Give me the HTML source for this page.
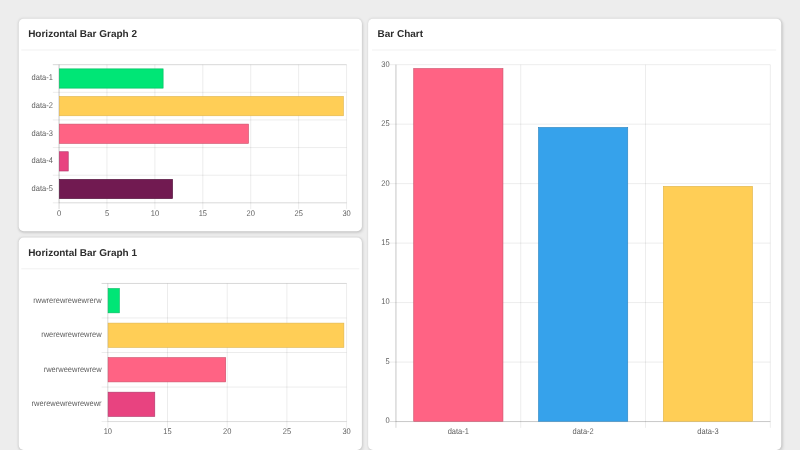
<!DOCTYPE html>
<html><head><meta charset="utf-8"><title>Dashboard</title>
<style>
html,body{margin:0;padding:0;background:#ededed;overflow:hidden;}
body{width:800px;height:450px;position:relative;font-family:"Liberation Sans",sans-serif;}
#stage{position:absolute;left:0;top:0;width:1280px;height:720px;transform:scale(0.625);transform-origin:0 0;}
.card{position:absolute;background:#fff;border-radius:8px;box-shadow:1.5px 2px 5px rgba(0,0,0,.12),0 0 4px rgba(0,0,0,.09);}
.card h3{position:absolute;left:15px;top:15px;margin:0;font-size:16px;line-height:19px;font-weight:bold;color:#2d2d2d;white-space:nowrap;text-rendering:geometricPrecision;}
.card .hr{position:absolute;left:4px;right:4px;top:49px;height:2px;background:#f4f4f4;}
svg{position:absolute;left:0;top:0;}
svg text{text-rendering:geometricPrecision;font-family:"Liberation Sans",sans-serif;font-size:12px;fill:#5e5e5e;}
</style></head><body>
<div id="stage">
<div class="card" style="left:30px;top:29.5px;width:549px;height:340.5px"><h3 style="top:15.5px">Horizontal Bar Graph 2</h3><div class="hr" style="top:49.5px"></div></div>
<div class="card" style="left:30px;top:380px;width:549px;height:340px"><h3>Horizontal Bar Graph 1</h3><div class="hr"></div></div>
<div class="card" style="left:589px;top:29.5px;width:661px;height:690.5px"><h3 style="top:15.5px">Bar Chart</h3><div class="hr" style="left:6px;right:8px;top:49.5px"></div></div>
<svg width="1280" height="720" viewBox="0 0 1280 720">
<g>
<line x1="84.50" y1="103.50" x2="554.50" y2="103.50" stroke="rgba(0,0,0,0.25)"/>
<line x1="84.50" y1="147.70" x2="554.50" y2="147.70" stroke="rgba(0,0,0,0.12)"/>
<line x1="84.50" y1="191.90" x2="554.50" y2="191.90" stroke="rgba(0,0,0,0.12)"/>
<line x1="84.50" y1="236.10" x2="554.50" y2="236.10" stroke="rgba(0,0,0,0.12)"/>
<line x1="84.50" y1="280.30" x2="554.50" y2="280.30" stroke="rgba(0,0,0,0.12)"/>
<line x1="84.50" y1="324.50" x2="554.50" y2="324.50" stroke="rgba(0,0,0,0.12)"/>
<line x1="94.50" y1="103.50" x2="94.50" y2="324.50" stroke="rgba(0,0,0,0.12)"/>
<line x1="94.50" y1="103.50" x2="94.50" y2="334.50" stroke="rgba(0,0,0,0.25)"/>
<line x1="171.17" y1="103.50" x2="171.17" y2="334.50" stroke="rgba(0,0,0,0.12)"/>
<line x1="247.83" y1="103.50" x2="247.83" y2="334.50" stroke="rgba(0,0,0,0.12)"/>
<line x1="324.50" y1="103.50" x2="324.50" y2="334.50" stroke="rgba(0,0,0,0.12)"/>
<line x1="401.17" y1="103.50" x2="401.17" y2="334.50" stroke="rgba(0,0,0,0.12)"/>
<line x1="477.83" y1="103.50" x2="477.83" y2="334.50" stroke="rgba(0,0,0,0.12)"/>
<line x1="554.50" y1="103.50" x2="554.50" y2="334.50" stroke="rgba(0,0,0,0.12)"/>
<line x1="94.50" y1="324.50" x2="554.50" y2="324.50" stroke="rgba(0,0,0,0.12)"/>
<rect x="95.00" y="110.19" width="165.98" height="30.82" fill="#00e676" stroke="#00bc60"/>
<rect x="95.00" y="154.39" width="454.40" height="30.82" fill="#ffce56" stroke="#e0b54b"/>
<rect x="95.00" y="198.59" width="302.60" height="30.82" fill="#ff6384" stroke="#cc4f69"/>
<rect x="95.00" y="242.79" width="14.18" height="30.82" fill="#e84380" stroke="#b0366a"/>
<rect x="95.00" y="286.99" width="181.16" height="30.82" fill="#711a51" stroke="#51123a"/>
</g>
<g>
<line x1="162.50" y1="453.50" x2="554.50" y2="453.50" stroke="rgba(0,0,0,0.25)"/>
<line x1="162.50" y1="508.75" x2="554.50" y2="508.75" stroke="rgba(0,0,0,0.12)"/>
<line x1="162.50" y1="564.00" x2="554.50" y2="564.00" stroke="rgba(0,0,0,0.12)"/>
<line x1="162.50" y1="619.25" x2="554.50" y2="619.25" stroke="rgba(0,0,0,0.12)"/>
<line x1="162.50" y1="674.50" x2="554.50" y2="674.50" stroke="rgba(0,0,0,0.12)"/>
<line x1="172.50" y1="453.50" x2="172.50" y2="674.50" stroke="rgba(0,0,0,0.12)"/>
<line x1="172.50" y1="453.50" x2="172.50" y2="684.50" stroke="rgba(0,0,0,0.12)"/>
<line x1="268.00" y1="453.50" x2="268.00" y2="684.50" stroke="rgba(0,0,0,0.12)"/>
<line x1="363.50" y1="453.50" x2="363.50" y2="684.50" stroke="rgba(0,0,0,0.12)"/>
<line x1="459.00" y1="453.50" x2="459.00" y2="684.50" stroke="rgba(0,0,0,0.12)"/>
<line x1="554.50" y1="453.50" x2="554.50" y2="684.50" stroke="rgba(0,0,0,0.12)"/>
<line x1="172.50" y1="674.50" x2="554.50" y2="674.50" stroke="rgba(0,0,0,0.12)"/>
<rect x="173.00" y="461.74" width="17.91" height="38.78" fill="#00e676" stroke="#00bc60"/>
<rect x="173.00" y="516.99" width="377.18" height="38.78" fill="#ffce56" stroke="#e0b54b"/>
<rect x="173.00" y="572.24" width="188.09" height="38.78" fill="#ff6384" stroke="#cc4f69"/>
<rect x="173.00" y="627.49" width="74.64" height="38.78" fill="#e84380" stroke="#b0366a"/>
</g>
<g>
<line x1="633.50" y1="103.50" x2="633.50" y2="684.50" stroke="rgba(0,0,0,0.25)"/>
<line x1="833.17" y1="103.50" x2="833.17" y2="684.50" stroke="rgba(0,0,0,0.12)"/>
<line x1="1032.83" y1="103.50" x2="1032.83" y2="684.50" stroke="rgba(0,0,0,0.12)"/>
<line x1="1232.50" y1="103.50" x2="1232.50" y2="684.50" stroke="rgba(0,0,0,0.12)"/>
<line x1="633.50" y1="674.50" x2="1232.50" y2="674.50" stroke="rgba(0,0,0,0.12)"/>
<line x1="623.50" y1="674.50" x2="1232.50" y2="674.50" stroke="rgba(0,0,0,0.25)"/>
<line x1="623.50" y1="579.33" x2="1232.50" y2="579.33" stroke="rgba(0,0,0,0.12)"/>
<line x1="623.50" y1="484.17" x2="1232.50" y2="484.17" stroke="rgba(0,0,0,0.12)"/>
<line x1="623.50" y1="389.00" x2="1232.50" y2="389.00" stroke="rgba(0,0,0,0.12)"/>
<line x1="623.50" y1="293.83" x2="1232.50" y2="293.83" stroke="rgba(0,0,0,0.12)"/>
<line x1="623.50" y1="198.67" x2="1232.50" y2="198.67" stroke="rgba(0,0,0,0.12)"/>
<line x1="623.50" y1="103.50" x2="1232.50" y2="103.50" stroke="rgba(0,0,0,0.12)"/>
<line x1="633.50" y1="103.50" x2="633.50" y2="674.50" stroke="rgba(0,0,0,0.12)"/>
<rect x="661.95" y="109.71" width="142.76" height="564.29" fill="#ff6384" stroke="#cc4f69"/>
<rect x="861.62" y="203.93" width="142.76" height="470.07" fill="#36a2eb" stroke="#2c84c0"/>
<rect x="1061.29" y="298.14" width="142.76" height="375.86" fill="#ffce56" stroke="#e0b54b"/>
</g>
<g>
<text transform="translate(94.50 345.00) scale(1 1.1)" text-anchor="middle">0</text>
<text transform="translate(171.17 345.00) scale(1 1.1)" text-anchor="middle">5</text>
<text transform="translate(247.83 345.00) scale(1 1.1)" text-anchor="middle">10</text>
<text transform="translate(324.50 345.00) scale(1 1.1)" text-anchor="middle">15</text>
<text transform="translate(401.17 345.00) scale(1 1.1)" text-anchor="middle">20</text>
<text transform="translate(477.83 345.00) scale(1 1.1)" text-anchor="middle">25</text>
<text transform="translate(554.50 345.00) scale(1 1.1)" text-anchor="middle">30</text>
<text transform="translate(84.50 128.60) scale(1 1.1)" text-anchor="end">data-1</text>
<text transform="translate(84.50 172.80) scale(1 1.1)" text-anchor="end">data-2</text>
<text transform="translate(84.50 217.00) scale(1 1.1)" text-anchor="end">data-3</text>
<text transform="translate(84.50 261.20) scale(1 1.1)" text-anchor="end">data-4</text>
<text transform="translate(84.50 305.40) scale(1 1.1)" text-anchor="end">data-5</text>
<text transform="translate(172.50 695.00) scale(1 1.1)" text-anchor="middle">10</text>
<text transform="translate(268.00 695.00) scale(1 1.1)" text-anchor="middle">15</text>
<text transform="translate(363.50 695.00) scale(1 1.1)" text-anchor="middle">20</text>
<text transform="translate(459.00 695.00) scale(1 1.1)" text-anchor="middle">25</text>
<text transform="translate(554.50 695.00) scale(1 1.1)" text-anchor="middle">30</text>
<text transform="translate(162.50 484.12) scale(1 1.1)" text-anchor="end">rwwrerewrewewrerw</text>
<text transform="translate(162.50 539.38) scale(1 1.1)" text-anchor="end">rwerewrewrewrew</text>
<text transform="translate(162.50 594.62) scale(1 1.1)" text-anchor="end">rwerweewrewrew</text>
<text transform="translate(162.50 649.88) scale(1 1.1)" text-anchor="end">rwerewewrewrewewr</text>
<text transform="translate(623.50 677.50) scale(1 1.1)" text-anchor="end">0</text>
<text transform="translate(623.50 582.33) scale(1 1.1)" text-anchor="end">5</text>
<text transform="translate(623.50 487.17) scale(1 1.1)" text-anchor="end">10</text>
<text transform="translate(623.50 392.00) scale(1 1.1)" text-anchor="end">15</text>
<text transform="translate(623.50 296.83) scale(1 1.1)" text-anchor="end">20</text>
<text transform="translate(623.50 201.67) scale(1 1.1)" text-anchor="end">25</text>
<text transform="translate(623.50 106.50) scale(1 1.1)" text-anchor="end">30</text>
<text transform="translate(733.33 695.00) scale(1 1.1)" text-anchor="middle">data-1</text>
<text transform="translate(933.00 695.00) scale(1 1.1)" text-anchor="middle">data-2</text>
<text transform="translate(1132.67 695.00) scale(1 1.1)" text-anchor="middle">data-3</text>
</g>
</svg>
</div>
</body></html>
